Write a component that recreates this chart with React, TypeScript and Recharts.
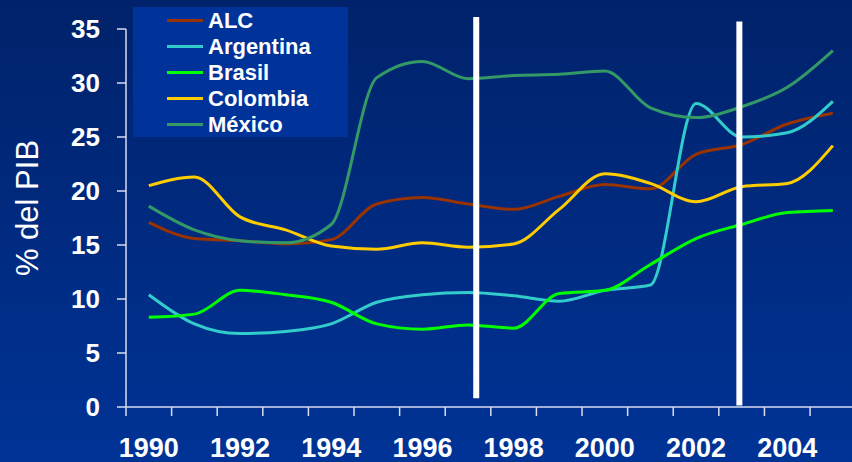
import React from "react";
import { LineChart, Line, XAxis, YAxis, ReferenceLine } from "recharts";

// annual values, % del PIB
const years = [1990, 1991, 1992, 1993, 1994, 1995, 1996, 1997, 1998, 1999, 2000, 2001, 2002, 2003, 2004, 2005];
const alc = [17.1, 15.6, 15.4, 15.1, 15.5, 18.8, 19.4, 18.8, 18.3, 19.5, 20.6, 20.2, 23.4, 24.3, 26.2, 27.2];
const argentina = [10.4, 7.7, 6.8, 7.0, 7.7, 9.7, 10.4, 10.6, 10.3, 9.8, 10.8, 11.3, 28.1, 25.0, 25.4, 28.3];
const brasil = [8.3, 8.6, 10.8, 10.4, 9.7, 7.7, 7.2, 7.6, 7.3, 10.5, 10.8, 13.2, 15.6, 16.9, 18.0, 18.2];
const colombia = [20.5, 21.3, 17.6, 16.4, 14.9, 14.6, 15.2, 14.8, 15.1, 18.3, 21.6, 20.7, 19.0, 20.4, 20.7, 24.2];
const mexico = [18.6, 16.4, 15.4, 15.2, 16.9, 30.5, 32.0, 30.4, 30.7, 30.8, 31.1, 27.7, 26.8, 27.8, 29.6, 33.0];

const yTicks = [0, 5, 10, 15, 20, 25, 30, 35];
// band edges (tick marks) and band centres (labels)
const xTicks = years.flatMap((y) => [y - 0.5, y]);
const markers = [
  { year: 1997.18, from: 0.8, to: 36.1 },
  { year: 2002.95, from: 0.15, to: 35.7 },
];

const series = [
  { key: "alc", name: "ALC", color: "#993300", values: alc },
  { key: "arg", name: "Argentina", color: "#33CCCC", values: argentina },
  { key: "bra", name: "Brasil", color: "#00FF00", values: brasil },
  { key: "col", name: "Colombia", color: "#FFCC00", values: colombia },
  { key: "mex", name: "México", color: "#339966", values: mexico },
];

const data = years.map((year, i) => {
  const row: Record<string, number> = { year };
  series.forEach((s) => (row[s.key] = s.values[i]));
  return row;
});

const font = "'Liberation Sans', Arial, sans-serif";

const XTick = (props: any) => {
  const { x, y, payload } = props;
  const v = payload.value;
  if (Number.isInteger(v)) {
    if (v % 2 !== 0) return <g />;
    return (
      <text x={x} y={y + 50} textAnchor="middle" fill="#fff" fontSize={27} fontWeight="bold" fontFamily={font}>
        {v}
      </text>
    );
  }
  return <line x1={x} y1={y} x2={x} y2={y + 9} stroke="#d8dcef" strokeWidth={1.5} />;
};

export default function App() {
  return (
    <div
      style={{
        position: "absolute",
        left: 0,
        top: 0,
        width: 852,
        height: 462,
        overflow: "hidden",
        background: "linear-gradient(#00226a, #003396)",
        fontFamily: font,
      }}
    >
      <LineChart width={852} height={462} data={data} margin={{ top: 29, right: 0, bottom: 0, left: 0 }}>
        <XAxis
          dataKey="year"
          type="number"
          domain={[1989.5, 2005.42]}
          ticks={xTicks}
          interval={0}
          height={55}
          tickSize={0}
          tickMargin={0}
          tickLine={false}
          tick={<XTick />}
          axisLine={{ stroke: "#d8dcef", strokeWidth: 1.5 }}
          allowDataOverflow
        />
        <YAxis
          type="number"
          domain={[0, 35]}
          ticks={yTicks}
          interval={0}
          width={126}
          tickSize={9}
          tickMargin={17}
          axisLine={{ stroke: "#d8dcef", strokeWidth: 1.5 }}
          tickLine={{ stroke: "#d8dcef", strokeWidth: 1.5 }}
          tick={{ fill: "#fff", fontSize: 26, fontWeight: "bold", fontFamily: font }}
          label={{
            content: () => (
              <text
                transform="translate(38,208) rotate(-90)"
                textAnchor="middle"
                fill="#fff"
                fontSize={31}
                fontFamily={font}
              >
                % del PIB
              </text>
            ),
          }}
        />
        {series.map((s) => (
          <Line
            key={s.key}
            dataKey={s.key}
            name={s.name}
            type="monotone"
            stroke={s.color}
            strokeWidth={3}
            dot={false}
            isAnimationActive={false}
          />
        ))}
        {markers.map((m) => (
          <ReferenceLine
            key={m.year}
            segment={[
              { x: m.year, y: m.from },
              { x: m.year, y: m.to },
            ]}
            stroke="#fff"
            strokeWidth={6}
            ifOverflow="visible"
          />
        ))}
      </LineChart>
      <div
        style={{
          position: "absolute",
          left: 133,
          top: 7,
          width: 215,
          height: 130,
          background: "#003399",
          paddingTop: 1,
          boxSizing: "border-box",
        }}
      >
        {series.map((s) => (
          <div key={s.key} style={{ height: 25.8, display: "flex", alignItems: "center" }}>
            <div style={{ marginLeft: 34, width: 36, height: 3, background: s.color }} />
            <span style={{ marginLeft: 5, color: "#fff", fontSize: 22, fontWeight: "bold", lineHeight: "25px" }}>
              {s.name}
            </span>
          </div>
        ))}
      </div>
    </div>
  );
}
